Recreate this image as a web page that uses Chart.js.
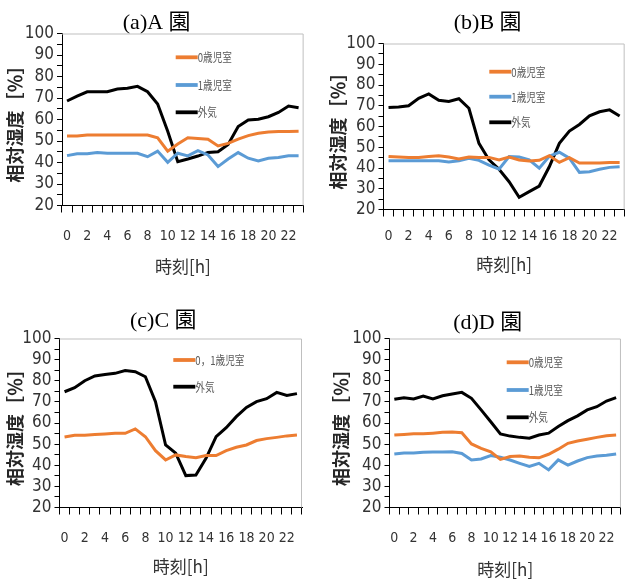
<!DOCTYPE html>
<html>
<head>
<meta charset="utf-8">
<script src="https://cdn.jsdelivr.net/npm/chart.js@4.4.1/dist/chart.umd.min.js"></script>
<style>
  html, body { margin: 0; padding: 0; background: #fff; }
  #wrap { position: relative; width: 633px; height: 579px; overflow: hidden; background: #fff; }
  #wrap canvas { position: absolute; }
</style>
</head>
<body>
<div id="wrap">
  <canvas id="cA" width="316" height="290" style="left:0;top:0"></canvas>
  <canvas id="cB" width="317" height="290" style="left:316px;top:0"></canvas>
  <canvas id="cC" width="316" height="289" style="left:0;top:290px"></canvas>
  <canvas id="cD" width="317" height="289" style="left:316px;top:290px"></canvas>
</div>
<script>
// Hour of day (categories)
const hours = ['0','1','2','3','4','5','6','7','8','9','10','11','12','13','14','15','16','17','18','19','20','21','22','23'];

// Axis / legend texts
const yTitle = '相対湿度［％］';
const xTitle = '時刻[h]';
const labelRoom0 = '0歳児室';
const labelRoom1 = '1歳児室';
const labelRoom01 = '0，1歳児室';
const labelOutdoor = '外気';
const titleA = '(a)A 園';
const titleB = '(b)B 園';
const titleC = '(c)C 園';
const titleD = '(d)D 園';

// Relative humidity [%] — A
const aRoom0   = [52.3,52.3,52.8,52.8,52.8,52.8,52.8,52.8,52.8,51.5,45.3,48.6,51.5,51.2,50.8,47.7,48.9,50.9,52.5,53.6,54.2,54.4,54.4,54.5];
const aRoom1   = [43.2,44.1,44.1,44.6,44.3,44.3,44.3,44.3,42.7,45.3,40.1,44.3,43.1,45.5,43.5,38.1,41.6,44.6,42.0,40.7,42.0,42.3,43.1,43.1];
const aOutdoor = [68.6,70.9,72.9,72.9,72.9,74.2,74.5,75.4,72.9,67.2,54.5,40.4,41.6,43.0,44.7,45.0,48.4,56.7,59.8,60.1,61.3,63.3,66.3,65.5];

// B
const bRoom0   = [45.6,45.3,45.1,45.1,45.5,45.9,45.3,44.3,45.3,45.1,45.1,43.9,45.3,43.9,43.4,43.7,45.9,42.7,45.0,42.4,42.4,42.4,42.7,42.7];
const bRoom1   = [43.5,43.5,43.5,43.5,43.5,43.5,42.9,43.5,44.7,43.7,41.4,39.4,45.5,45.3,43.9,39.9,45.7,47.6,44.7,37.9,38.2,39.4,40.3,40.6];
const bOutdoor = [69.1,69.4,70.0,73.6,75.7,72.6,72.1,73.4,68.8,51.9,43.9,39.4,33.4,25.9,28.6,31.3,40.6,51.9,57.8,61.0,65.1,67.1,68.0,65.1];

// C
const cRoom01  = [53.4,54.2,54.2,54.5,54.8,55.1,55.1,57.2,53.5,46.9,42.5,44.9,44.1,43.6,44.6,44.6,46.9,48.5,49.6,51.7,52.6,53.2,53.9,54.3];
const cOutdoor = [74.8,76.7,80.0,82.3,83.0,83.5,84.8,84.3,81.9,70.1,49.6,45.7,35.1,35.4,43.3,53.5,57.8,63.0,67.4,70.1,71.5,74.5,73.0,73.9];

// D
const dRoom0   = [54.3,54.6,54.9,54.9,55.2,55.6,55.7,55.4,50.1,48.0,46.4,42.8,44.1,44.4,43.8,43.5,45.2,47.6,50.4,51.5,52.3,53.2,54.0,54.3];
const dRoom1   = [45.3,45.8,45.8,46.1,46.3,46.3,46.4,45.6,42.5,43.0,44.6,43.8,42.5,40.9,39.4,40.9,37.8,42.5,40.1,42.0,43.6,44.4,44.7,45.3];
const dOutdoor = [71.2,72.0,71.4,72.8,71.4,72.9,73.7,74.5,71.7,66.2,60.6,54.8,53.8,53.2,52.8,54.3,55.2,58.3,61.1,63.4,66.2,67.7,70.4,72.0];

const ORANGE = '#ED7D31';
const BLUE = '#5B9BD5';
const BLACK = '#000000';

const TICK_FONT = '"Liberation Sans Narrow", "DejaVu Sans Condensed", "Liberation Sans", sans-serif';
const JP_FONT = '"Noto Sans CJK JP", "Noto Sans", sans-serif';
const SERIF_FONT = '"Liberation Serif", "Noto Sans CJK JP", serif';

// Draws the panel heading, the plot frame and the in-plot legend.
const panelDecor = {
  id: 'panelDecor',
  beforeDatasetsDraw(chart) {
    const { ctx, chartArea: a } = chart;
    ctx.save();
    ctx.strokeStyle = '#bfbfbf';
    ctx.lineWidth = 1;
    ctx.beginPath();
    ctx.moveTo(a.left, a.top + 0.5);
    ctx.lineTo(a.right - 0.5, a.top + 0.5);
    ctx.lineTo(a.right - 0.5, a.bottom);
    ctx.stroke();
    ctx.restore();
  },
  afterDraw(chart) {
    const cfg = chart.options.plugins.panelDecor;
    const { ctx } = chart;
    ctx.save();
    // heading
    ctx.fillStyle = '#000';
    ctx.font = '22px ' + SERIF_FONT;
    ctx.textAlign = 'center';
    ctx.textBaseline = 'middle';
    ctx.fillText(cfg.title, cfg.titleX, cfg.titleY);
    // legend
    chart.data.datasets.forEach((ds, i) => {
      const y = cfg.legendY[i];
      const x = cfg.legendX;
      ctx.strokeStyle = ds.borderColor;
      ctx.lineWidth = 3.8;
      ctx.lineCap = 'butt';
      ctx.beginPath();
      ctx.moveTo(x, y);
      ctx.lineTo(x + 22, y);
      ctx.stroke();
      ctx.save();
      ctx.translate(x + 22, y);
      ctx.scale(0.8, 1);
      ctx.fillStyle = '#595959';
      ctx.font = '12px ' + JP_FONT;
      ctx.textAlign = 'left';
      ctx.textBaseline = 'middle';
      ctx.fillText(ds.label, 0, 0.5);
      ctx.restore();
    });
    ctx.restore();
  }
};

function makePanel(id, p) {
  const canvas = document.getElementById(id);
  const W = canvas.width, H = canvas.height;
  return new Chart(canvas, {
    type: 'line',
    data: {
      labels: hours,
      datasets: p.series.map(s => ({
        label: s.label,
        data: s.data,
        borderColor: s.color,
        backgroundColor: s.color,
        borderWidth: 3,
        pointRadius: 0,
        tension: 0,
        fill: false
      }))
    },
    options: {
      responsive: false,
      animation: false,
      devicePixelRatio: 1,
      layout: { padding: { top: p.area.top, right: W - p.area.right, left: 0, bottom: 0 } },
      plugins: {
        legend: { display: false },
        title: { display: false },
        tooltip: { enabled: false },
        panelDecor: {
          title: p.title, titleX: p.titleX, titleY: p.titleY,
          legendX: p.legendX, legendY: p.legendY
        }
      },
      scales: {
        x: {
          type: 'category',
          offset: true,
          grid: { offset: true, drawOnChartArea: false, drawTicks: true, tickLength: 7, color: '#000', lineWidth: 1 },
          border: { color: '#000', width: 1 },
          ticks: {
            autoSkip: false, maxRotation: 0, minRotation: 0,
            padding: p.xLabelOffset - 7 - 7,
            color: '#333',
            font: { family: TICK_FONT, size: 14, lineHeight: 1 },
            callback: (v, i) => (i % 2 === 0 ? hours[i] : '')
          },
          title: {
            display: true, text: xTitle, color: '#333',
            font: { family: JP_FONT, size: 17, lineHeight: 1 },
            padding: { top: 0, bottom: p.xTitlePad }
          },
          afterFit: s => { s.height = H - p.area.bottom; }
        },
        y: {
          min: 20, max: 100,
          grid: { drawOnChartArea: false, drawTicks: true, tickLength: 5, color: '#000', lineWidth: 1 },
          border: { color: '#000', width: 1 },
          ticks: {
            stepSize: 5, autoSkip: false, padding: 3,
            color: '#333',
            font: { family: TICK_FONT, size: 17, lineHeight: 1 },
            callback: v => (v % 10 === 0 ? String(v) : '')
          },
          title: {
            display: true, text: yTitle, color: '#262626',
            font: { family: JP_FONT, size: 18, weight: 'bold', lineHeight: 1 },
            padding: { top: p.yTitlePad, bottom: 0 }
          },
          afterFit: s => { s.width = p.area.left; }
        }
      }
    },
    plugins: [panelDecor]
  });
}

makePanel('cA', {
  area: { left: 62, right: 306, top: 33.5, bottom: 205.5 },
  title: titleA, titleX: 156.7, titleY: 23.3,
  legendX: 175.7, legendY: [57.3, 85, 112.3],
  xLabelOffset: 31.2, xTitlePad: 14.8, yTitlePad: 6,
  series: [
    { label: labelRoom0, data: aRoom0, color: ORANGE },
    { label: labelRoom1, data: aRoom1, color: BLUE },
    { label: labelOutdoor, data: aOutdoor, color: BLACK }
  ]
});

makePanel('cB', {
  area: { left: 67.5, right: 309, top: 43.5, bottom: 209.5 },
  title: titleB, titleX: 171.7, titleY: 23.3,
  legendX: 173.3, legendY: [71.7, 96.7, 122.3],
  xLabelOffset: 27.2, xTitlePad: 16.5, yTitlePad: 12.7,
  series: [
    { label: labelRoom0, data: bRoom0, color: ORANGE },
    { label: labelRoom1, data: bRoom1, color: BLUE },
    { label: labelOutdoor, data: bOutdoor, color: BLACK }
  ]
});

makePanel('cC', {
  area: { left: 59.5, right: 302, top: 48.5, bottom: 217.5 },
  title: titleC, titleX: 163.3, titleY: 31.7,
  legendX: 173.3, legendY: [70, 96.7],
  xLabelOffset: 30.8, xTitlePad: 3.8, yTitlePad: 6,
  series: [
    { label: labelRoom01, data: cRoom01, color: ORANGE },
    { label: labelOutdoor, data: cOutdoor, color: BLACK }
  ]
});

makePanel('cD', {
  area: { left: 73.5, right: 314, top: 48.5, bottom: 217.5 },
  title: titleD, titleX: 171.7, titleY: 33.3,
  legendX: 190.7, legendY: [72.3, 100, 127.3],
  xLabelOffset: 30.8, xTitlePad: 0.5, yTitlePad: 16,
  series: [
    { label: labelRoom0, data: dRoom0, color: ORANGE },
    { label: labelRoom1, data: dRoom1, color: BLUE },
    { label: labelOutdoor, data: dOutdoor, color: BLACK }
  ]
});
</script>
</body>
</html>
